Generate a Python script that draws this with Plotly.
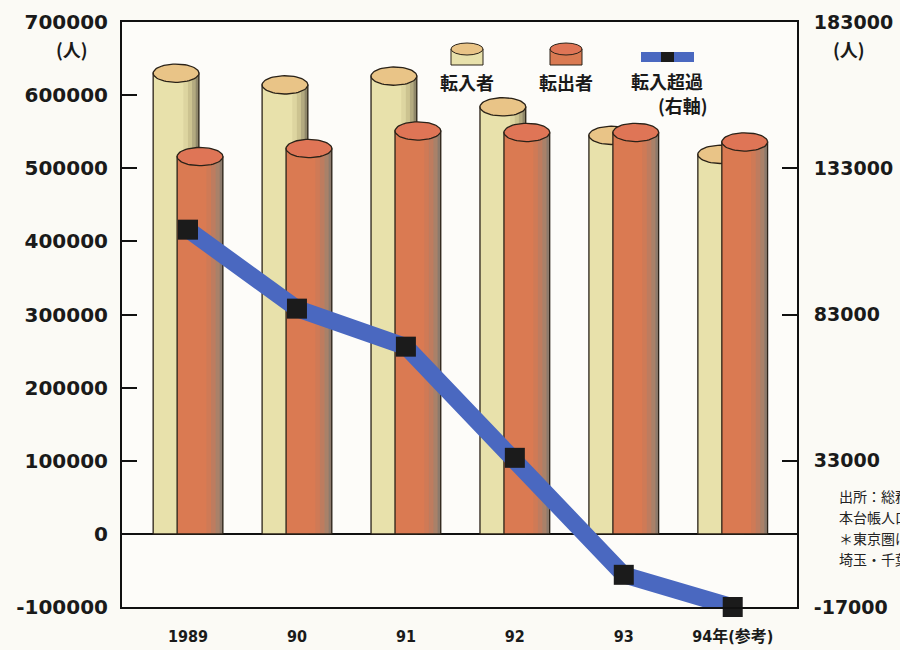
import numpy as np
import plotly.graph_objects as go

# ---- data -------------------------------------------------------------
years = ["1989", "90", "91", "92", "93", "94年(参考)"]
in_movers = [630000, 614000, 626000, 584000, 545000, 519000]      # 転入者 (left axis)
out_movers = [516000, 527000, 551000, 549000, 549000, 536000]     # 転出者 (left axis)
net_in = [112000, 85000, 72000, 34000, -6000, -17000]             # 転入超過 (right axis)

left_ticks = list(range(-100000, 700001, 100000))
right_ticks = [-17000, 33000, 83000, 133000, 183000]

# ---- layout constants -------------------------------------------------
W, H = 900, 650
ML, MR, MT, MB = 122, 103, 22, 43
PW, PH = W - ML - MR, H - MT - MB
XR = [-0.606, 5.59]
YR = [-100000, 700000]

BAR_W = 0.42
OFF_IN, OFF_OUT = -0.11, 0.11
CAP_H = 12500          # half height of the cylinder cap, in left-axis units

xs = np.arange(len(years))


def px_x(px):
    return (px - ML) / PW


def px_y(py):
    return (H - MB - py) / PH


fig = go.Figure()


def cylinder(values, off, body, shades, cap, xa, name):
    # body
    fig.add_trace(go.Bar(x=xs, y=values, xaxis=xa, width=BAR_W, offset=off - BAR_W / 2,
                         marker=dict(color=body, line=dict(width=0)),
                         showlegend=False, hoverinfo="skip", name=name))
    # shading toward the right edge
    for frac, col in shades:
        s = BAR_W * frac
        fig.add_trace(go.Bar(x=xs, y=values, xaxis=xa, width=s, offset=off + BAR_W / 2 - s,
                             marker=dict(color=col, line=dict(width=0)),
                             showlegend=False, hoverinfo="skip"))
    # outline
    fig.add_trace(go.Bar(x=xs, y=values, xaxis=xa, width=BAR_W, offset=off - BAR_W / 2,
                         marker=dict(color="rgba(0,0,0,0)", line=dict(color="#2a2218", width=1.3)),
                         showlegend=False, hoverinfo="skip"))
    # elliptical caps
    t = np.linspace(0, 2 * np.pi, 60)
    ex, ey = [], []
    for xi, v in zip(xs, values):
        ex += list(xi + off + BAR_W / 2 * np.cos(t)) + [None]
        ey += list(v + CAP_H * np.sin(t)) + [None]
    fig.add_trace(go.Scatter(x=ex, y=ey, xaxis=xa, mode="lines", fill="toself", fillcolor=cap,
                             line=dict(color="#2a2218", width=1.3),
                             showlegend=False, hoverinfo="skip"))


# 転入者 on the base subplot, 転出者 on an overlaid copy of the x axis so it sits in front
cylinder(in_movers, OFF_IN, "#e8e1ab",
         [(0.34, "#ddd5a0"), (0.24, "#ccc390"), (0.15, "#b3aa80"), (0.07, "#8f876a")],
         "#e9c487", "x", "転入者")
cylinder(out_movers, OFF_OUT, "#da7a52",
         [(0.36, "#cf7a56"), (0.26, "#be7c5f"), (0.16, "#a98169"), (0.07, "#8c7a6c")],
         "#df7556", "x2", "転出者")

# net in-migration on the right axis
fig.add_trace(go.Scatter(x=xs, y=net_in, xaxis="x2", yaxis="y2", mode="lines+markers",
                         line=dict(color="#4a68c0", width=17),
                         marker=dict(symbol="square", size=20, color="#1b1b1b"),
                         cliponaxis=False, showlegend=False, name="転入超過"))

num_font = dict(family="DejaVu Sans, Liberation Sans, sans-serif", size=20, color="#1a1a1a", weight="bold")
cat_font = dict(family="DejaVu Sans Condensed, DejaVu Sans, Noto Sans CJK JP, sans-serif",
                size=16, color="#1a1a1a", weight="bold")
jp_font = dict(family="Noto Sans CJK JP, sans-serif", size=18, color="#1a1a1a", weight="bold")

fig.update_layout(
    width=W, height=H,
    margin=dict(l=ML, r=MR, t=MT, b=MB, autoexpand=False),
    paper_bgcolor="#fbfaf5", plot_bgcolor="#fdfcf9",
    barmode="overlay", showlegend=False,
    xaxis=dict(range=XR, tickvals=list(xs), ticktext=years, tickfont=cat_font,
               showline=True, mirror=True, linecolor="#111", linewidth=2, automargin=False,
               ticks="", showgrid=False, zeroline=False, ticklabelstandoff=14),
    xaxis2=dict(range=XR, overlaying="x", visible=False),
    yaxis=dict(range=YR, tickvals=left_ticks, ticktext=[str(v) for v in left_ticks],
               tickfont=num_font, showline=True, linecolor="#111", linewidth=2,
               ticks="inside", ticklen=15, tickwidth=2, tickcolor="#111", automargin=False,
               showgrid=False, zeroline=True, zerolinecolor="#111", zerolinewidth=2,
               ticklabelstandoff=8),
    yaxis2=dict(range=[-17000, 183000], tickvals=right_ticks,
                ticktext=[str(v) for v in right_ticks], overlaying="y", side="right",
                tickfont=dict(num_font, size=19), showline=True, linecolor="#111", linewidth=2,
                ticks="inside", ticklen=15, tickwidth=2, tickcolor="#111", automargin=False,
                showgrid=False, zeroline=False, ticklabelstandoff=11),
)


def label(text, cx, cy, font, xanchor="center"):
    fig.add_annotation(x=px_x(cx), y=px_y(cy), xref="paper", yref="paper", text=text,
                       showarrow=False, font=font, xanchor=xanchor, yanchor="middle")


# unit labels
label("(人)", 72, 49, jp_font)
label("(人)", 849, 49, jp_font)


# legend: cylinder icons, band icon, captions
def icon_cyl(cx, body, cap):
    x0, x1 = px_x(cx - 16), px_x(cx + 16)
    fig.add_shape(type="rect", xref="paper", yref="paper", x0=x0, x1=x1,
                  y0=px_y(65), y1=px_y(49), fillcolor=body, line=dict(color="#2a2218", width=1))
    fig.add_shape(type="circle", xref="paper", yref="paper", x0=x0, x1=x1,
                  y0=px_y(55), y1=px_y(43), fillcolor=cap, line=dict(color="#2a2218", width=1))


icon_cyl(467, "#e8e1ab", "#e9c487")
icon_cyl(566, "#da7a52", "#df7556")
fig.add_shape(type="rect", xref="paper", yref="paper", x0=px_x(641), x1=px_x(694),
              y0=px_y(62), y1=px_y(52), fillcolor="#4a68c0", line=dict(width=0))
fig.add_shape(type="rect", xref="paper", yref="paper", x0=px_x(661), x1=px_x(674),
              y0=px_y(62), y1=px_y(52), fillcolor="#1b1b1b", line=dict(width=0))

for txt, cx, cy in [("転入者", 467, 82), ("転出者", 566, 82), ("転入超過", 667, 81), ("(右軸)", 683, 105)]:
    label(txt, cx, cy, jp_font)

# source note (runs off the right edge)
notes = ["出所：総務庁「住民基本", "本台帳人口移動報告年報」", "＊東京圏は東京・神奈川・", "埼玉・千葉"]
for i, line in enumerate(notes):
    label(line, 837, 496 + 21 * i,
          dict(family="Noto Sans CJK JP, sans-serif", size=14, color="#222"), xanchor="left")

fig.write_html("out.html")
